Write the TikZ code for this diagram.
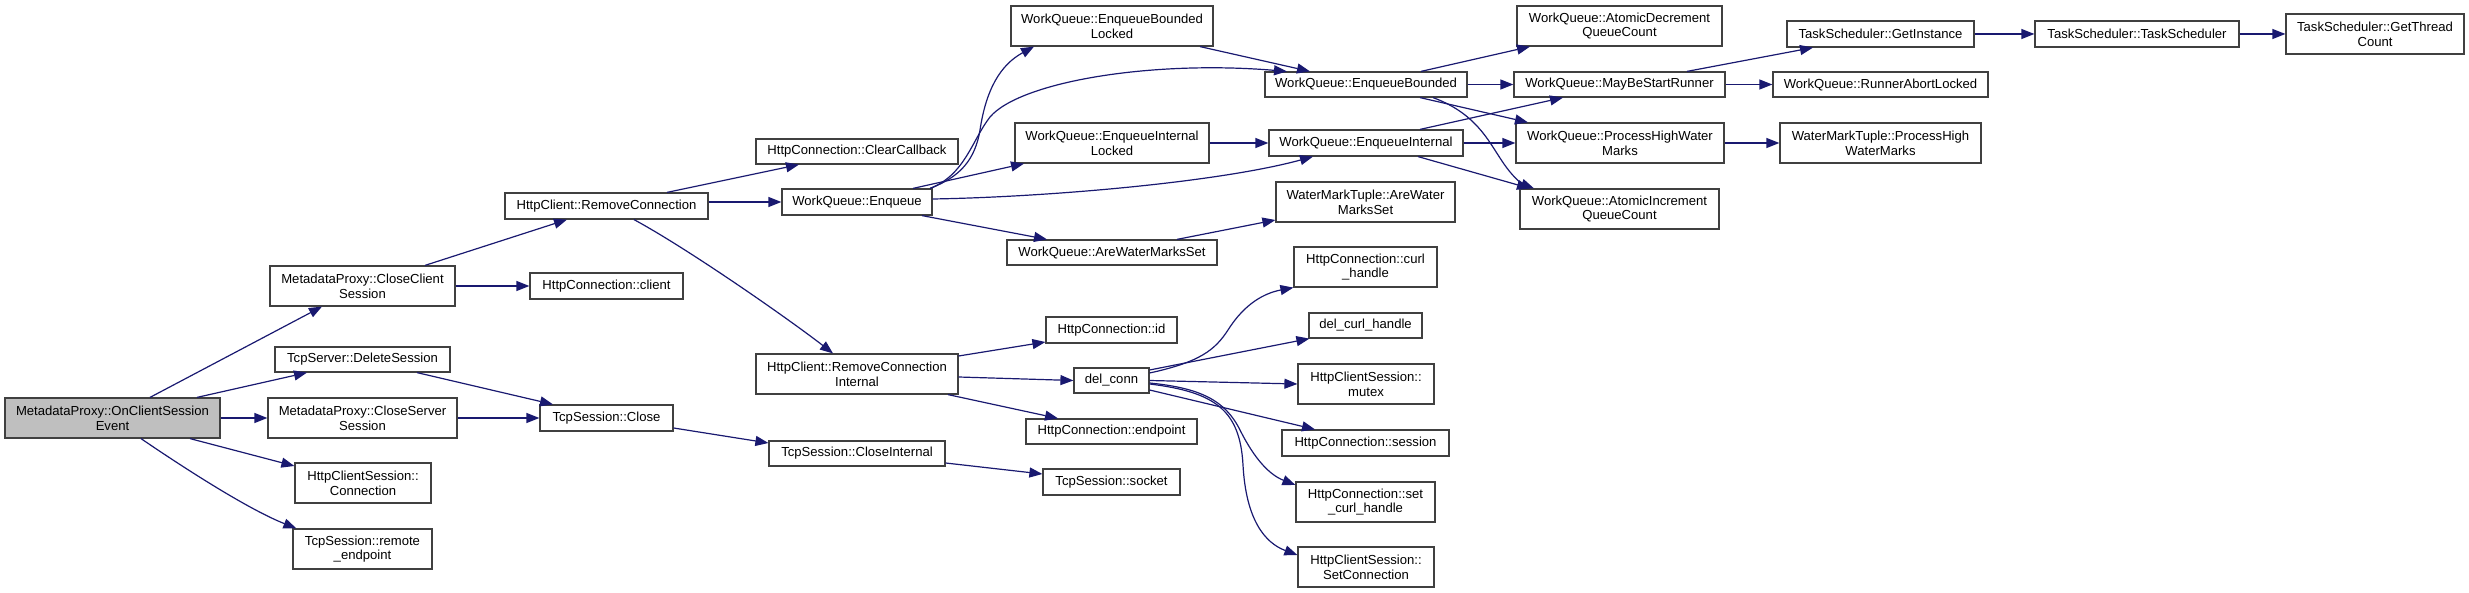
\documentclass[tikz,border=0pt]{standalone}
\usepackage{fontspec}
\setmainfont{Liberation Sans}
\usetikzlibrary{arrows.meta,calc}
\definecolor{edgeblue}{HTML}{191970}
\definecolor{rootgray}{HTML}{BFBFBF}
\definecolor{boxline}{HTML}{404040}
\newcommand\mkbox[7][]{\node[fnbox,#1,minimum width={(#4)-(#2)},minimum height={(#5)-(#3)}] (#7) at ({((#2)+(#4))/2},{((#3)+(#5))/2}) {#6};}
\begin{document}
\begin{tikzpicture}[x=1pt,y=-1pt,
  fnbox/.style={draw=boxline,line width=1.2pt,fill=white,inner sep=0pt,align=center,
    font=\fontsize{13.1}{14.7}\selectfont},
  e/.style={draw=edgeblue,line width=1.2pt,-{Triangle[length=13pt,width=10pt]}}]
\useasboundingbox (0,0) rectangle (2469,593);
% rank 0
\mkbox[fill=rootgray]{5}{398}{220}{438}{MetadataProxy::OnClientSession\\Event}{root}
% rank 1
\mkbox{270}{266}{455}{306}{MetadataProxy::CloseClient\\Session}{ccs}
\mkbox{275}{347}{450}{372}{TcpServer::DeleteSession}{dels}
\mkbox{268}{398}{457}{438}{MetadataProxy::CloseServer\\Session}{css}
\mkbox{295}{463}{431}{503}{HttpClientSession::\\Connection}{hcsc}
\mkbox{293}{529}{432}{569}{TcpSession::remote\\\_endpoint}{rend}
% rank 2
\mkbox{505}{193}{708}{219}{HttpClient::RemoveConnection}{rc}
\mkbox{530}{273}{683}{299}{HttpConnection::client}{client}
\mkbox{540}{405}{673}{431}{TcpSession::Close}{close}
% rank 3
\mkbox{756}{139}{958}{164}{HttpConnection::ClearCallback}{clearcb}
\mkbox{782}{189}{932}{215}{WorkQueue::Enqueue}{enq}
\mkbox{756}{354}{958}{394}{HttpClient::RemoveConnection\\Internal}{rci}
\mkbox{769}{441}{945}{466}{TcpSession::CloseInternal}{cint}
% rank 4
\mkbox{1011}{6}{1213}{46}{WorkQueue::EnqueueBounded\\Locked}{ebl}
\mkbox{1015}{123}{1209}{163}{WorkQueue::EnqueueInternal\\Locked}{eil}
\mkbox{1007}{240}{1217}{265}{WorkQueue::AreWaterMarksSet}{wqawms}
\mkbox{1046}{317}{1177}{343}{HttpConnection::id}{hid}
\mkbox{1074}{368}{1149}{393}{del\_conn}{delc}
\mkbox{1026}{419}{1197}{444}{HttpConnection::endpoint}{endp}
\mkbox{1043}{469}{1180}{495}{TcpSession::socket}{sock}
% rank 5
\mkbox{1265}{72}{1467}{97}{WorkQueue::EnqueueBounded}{eb}
\mkbox{1269}{130}{1463}{156}{WorkQueue::EnqueueInternal}{ei}
\mkbox{1276}{182}{1455}{222}{WaterMarkTuple::AreWater\\MarksSet}{wmtawms}
\mkbox{1294}{247}{1437}{287}{HttpConnection::curl\\\_handle}{curlh}
\mkbox{1309}{313}{1422}{338}{del\_curl\_handle}{delcurl}
\mkbox{1298}{364}{1434}{404}{HttpClientSession::\\mutex}{mutex}
\mkbox{1282}{430}{1449}{456}{HttpConnection::session}{sess}
\mkbox{1296}{482}{1435}{522}{HttpConnection::set\\\_curl\_handle}{setcurl}
\mkbox{1298}{547}{1434}{587}{HttpClientSession::\\SetConnection}{setconn}
% rank 6
\mkbox{1517}{6}{1722}{46}{WorkQueue::AtomicDecrement\\QueueCount}{adec}
\mkbox{1514}{72}{1725}{97}{WorkQueue::MayBeStartRunner}{mbsr}
\mkbox{1516}{123}{1724}{163}{WorkQueue::ProcessHighWater\\Marks}{phwm}
\mkbox{1520}{189}{1719}{229}{WorkQueue::AtomicIncrement\\QueueCount}{ainc}
% rank 7
\mkbox{1787}{21}{1974}{47}{TaskScheduler::GetInstance}{getinst}
\mkbox{1773}{72}{1988}{97}{WorkQueue::RunnerAbortLocked}{rabort}
\mkbox{1780}{123}{1981}{163}{WaterMarkTuple::ProcessHigh\\WaterMarks}{wmtphwm}
% rank 8, 9
\mkbox{2035}{21}{2239}{47}{TaskScheduler::TaskScheduler}{tsched}
\mkbox{2286}{14}{2464}{54}{TaskScheduler::GetThread\\Count}{gtc}

% edges from root
\draw[e] ($(root.north)+(37.5,0)$) -- ($(ccs.south)+(-40.5,0)$);
\draw[e] ($(root.north)+(84.5,0)$) -- ($(dels.south)+(-55.5,0)$);
\draw[e] (root.east) -- (css.west);
\draw[e] ($(root.south)+(77.5,0)$) -- ($(hcsc.west)+(0,-17)$);
\draw[e] ($(root.south)+(28.5,0)$) .. controls (190,472) and (250,510) .. ($(rend.north west)+(4,0)$);
% rank1 -> rank2
\draw[e] ($(ccs.north)+(62.5,0)$) -- ($(rc.south)+(-39.5,0)$);
\draw[e] (ccs.east) -- (client.west);
\draw[e] ($(dels.south)+(54.5,0)$) -- ($(close.north)+(-53.5,0)$);
\draw[e] (css.east) -- (close.west);
% rank2 -> rank3
\draw[e] ($(close.east)+(0,10)$) -- ($(cint.west)+(0,-10.5)$);
\draw[e] ($(rc.north)+(60.5,0)$) -- ($(clearcb.south)+(-58,0)$);
\draw[e] (rc.east |- enq.west) -- (enq.west);
\draw[e] ($(rc.south)+(27.5,0)$) .. controls (690,250) and (790,320) .. ($(rci.north)+(-24,0)$);
% Enqueue
\draw[e] ($(enq.north)+(73,0)$) .. controls (960,177) and (975,160) .. (980,130) .. controls (986,90) and (1000,65) .. ($(ebl.south)+(-78,0)$);
\draw[e] ($(enq.north)+(73,0)$) .. controls (965,175) and (972,140) .. (990,117) .. controls (1020,82) and (1150,60) .. ($(eb.north)+(-79,0)$);
\draw[e] ($(enq.north)+(56,0)$) -- ($(eil.south)+(-88,0)$);
\draw[e] ($(enq.east)+(0,-3)$) .. controls (1050,197) and (1220,182) .. ($(ei.south)+(-53,0)$);
\draw[e] ($(enq.south)+(65,0)$) -- ($(wqawms.north)+(-65,0)$);
% rank4 -> rank5
\draw[e] ($(ebl.south)+(88,0)$) -- ($(eb.north)+(-56,0)$);
\draw[e] (eil.east) -- (ei.west);
\draw[e] ($(wqawms.north)+(65,0)$) -- ($(wmtawms.west)+(0,18)$);
% rank5 -> rank6
\draw[e] ($(eb.north)+(55,0)$) -- ($(adec.south)+(-89.5,0)$);
\draw[e] (eb.east) -- (mbsr.west);
\draw[e] ($(eb.south)+(54,0)$) -- ($(phwm.north)+(-92,0)$);
\draw[e] ($(eb.south)+(67,0)$) .. controls (1475,113) and (1488,140) .. (1500,158) .. controls (1512,177) and (1522,184) .. ($(ainc.north)+(-85.5,0)$);
\draw[e] ($(ei.north)+(54,0)$) -- ($(mbsr.south)+(-56.5,0)$);
\draw[e] (ei.east) -- (phwm.west);
\draw[e] ($(ei.south)+(52,0)$) -- ($(ainc.north)+(-89.5,0)$);
% rank6 -> rank7 ...
\draw[e] ($(mbsr.north)+(67.5,0)$) -- ($(getinst.south)+(-67.5,0)$);
\draw[e] (mbsr.east) -- (rabort.west);
\draw[e] (phwm.east) -- (wmtphwm.west);
\draw[e] (getinst.east) -- (tsched.west);
\draw[e] (tsched.east) -- (gtc.west);
% RemoveConnectionInternal
\draw[e] ($(rci.east)+(0,-18)$) -- ($(hid.west)+(0,12)$);
\draw[e] ($(rci.east)+(0,3)$) -- (delc.west);
\draw[e] ($(rci.south)+(91,0)$) -- ($(endp.north)+(-53.5,0)$);
\draw[e] ($(cint.east)+(0,9.5)$) -- ($(sock.west)+(0,-8)$);
% del_conn
\draw[e] ($(delc.east)+(0,-7.5)$) .. controls (1200,362) and (1215,350) .. (1228,330) .. controls (1245,303) and (1265,293) .. (curlh.south west);
\draw[e] ($(delc.east)+(0,-10.5)$) -- ($(delcurl.south west)+(1,0)$);
\draw[e] (delc.east) -- (mutex.west);
\draw[e] ($(delc.east)+(0,9.5)$) -- ($(sess.north)+(-50.5,0)$);
\draw[e] ($(delc.east)+(0,2.5)$) .. controls (1200,388) and (1225,400) .. (1240,430) .. controls (1255,460) and (1270,475) .. ($(setcurl.west)+(0,-17)$);
\draw[e] ($(delc.east)+(0,3.5)$) .. controls (1215,392) and (1240,410) .. (1243,465) .. controls (1246,520) and (1265,543) .. ($(setconn.west)+(0,-12)$);
\end{tikzpicture}
\end{document}
